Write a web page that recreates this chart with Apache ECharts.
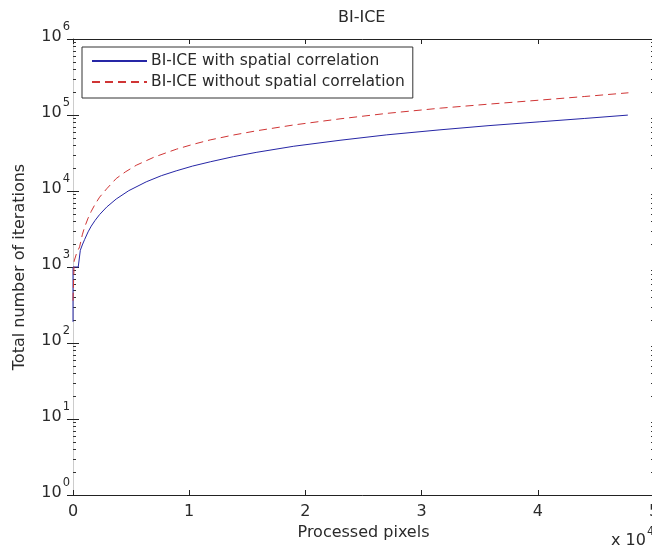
<!DOCTYPE html>
<html><head><meta charset="utf-8">
<script src="https://cdn.jsdelivr.net/npm/echarts@6/dist/echarts.min.js"></script>
<style>html,body{margin:0;padding:0;background:#fff}#c{width:652px;height:551px}</style>
</head><body><div id="c"></div>
<script>
var titleText = 'BI-ICE';
var xName = 'Processed pixels';
var yName = 'Total number of iterations';
var seriesNames = ['BI-ICE with spatial correlation', 'BI-ICE without spatial correlation'];
var blueX = [0, 0, 450, 630, 800, 1000, 1300, 1570, 1900, 2290, 2900, 3720, 4800, 6300, 7600, 8880, 10300, 11850, 13800, 15760, 19000, 22980, 27000, 31580, 35800, 40180, 44000, 47750];
var blueY = [190, 1000, 1000, 1660, 1950, 2300, 2900, 3450, 4100, 4900, 6150, 7850, 10100, 13200, 15900, 18400, 21300, 24300, 28300, 32200, 38800, 46500, 54800, 63800, 72500, 81400, 90000, 99700];
var redX = [0, 100, 300, 568, 800, 1000, 1300, 1570, 1900, 2290, 2900, 3720, 4500, 5440, 7000, 8900, 10300, 11800, 13800, 15800, 19000, 22980, 27000, 31600, 35800, 40180, 44000, 47800];
var redY = [360, 1200, 1500, 1840, 2650, 3350, 4400, 5400, 6700, 8300, 10700, 14600, 17800, 21800, 28000, 35500, 41000, 47000, 54500, 62000, 74000, 89000, 105000, 123000, 139000, 157000, 175000, 196000];
var xTickLabels = ['0', '1', '2', '3', '4', '5'];
var xScaleLabel = ['x 10', '4'];
var yTickExponents = ['0', '1', '2', '3', '4', '5', '6'];
var decades = [1, 10, 100, 1000, 10000, 100000];
var minorFactors = [2, 3, 4, 5, 6, 7, 8, 9];

var FONT = 'DejaVu Sans, sans-serif';
var TXT = '#2a2a2a';
function pairs(xs, ys) { return xs.map(function (x, i) { return [x, ys[i]]; }); }
var minorVals = [];
decades.forEach(function (d) { minorFactors.forEach(function (f) { minorVals.push([0, d * f]); }); });

var chart = echarts.init(document.getElementById('c'), null, { renderer: 'canvas' });
var richSup = {
  b: { fontSize: 16, fontFamily: FONT, color: TXT, verticalAlign: 'bottom', lineHeight: 18 },
  s: { fontSize: 11.5, fontFamily: FONT, color: TXT, verticalAlign: 'bottom', lineHeight: 13, padding: [0, 0, 11, 1] }
};
chart.setOption({
  backgroundColor: '#fff',
  animation: false,
  title: { text: titleText, left: 338, top: 10, padding: 0, textStyle: { fontSize: 16, fontWeight: 'normal', fontFamily: FONT, color: TXT } },
  legend: {
    orient: 'vertical', left: 82, top: 47, padding: [6, 8, 8, 9], itemGap: 5,
    itemWidth: 55, itemHeight: 16, borderColor: '#333', borderWidth: 1, backgroundColor: '#fff',
    data: seriesNames,
    itemStyle: { opacity: 0 },
    textStyle: { fontSize: 15.5, fontFamily: FONT, color: TXT, padding: [0, 0, 0, -1] }
  },
  grid: { left: 73, top: 39, width: 581, height: 456, containLabel: false, outerBoundsMode: 'none' },
  xAxis: [{
    type: 'value', min: 0, max: 50000, interval: 10000,
    name: xName, nameLocation: 'middle', nameGap: 26,
    nameTextStyle: { fontSize: 16, fontFamily: FONT, color: TXT },
    axisLine: { lineStyle: { color: '#222' } },
    axisTick: { inside: true, length: 5, lineStyle: { color: '#222' } },
    axisLabel: { margin: 9, fontSize: 16, fontFamily: FONT, color: TXT, formatter: function (v) { return xTickLabels[Math.round(v / 10000)]; } },
    splitLine: { show: false }
  }, {
    type: 'value', position: 'top', min: 0, max: 50000, interval: 10000,
    axisLine: { lineStyle: { color: '#222' } },
    axisTick: { inside: true, length: 5, lineStyle: { color: '#222' } },
    axisLabel: { show: false }, splitLine: { show: false }
  }],
  yAxis: [{
    type: 'log', logBase: 10, min: 1, max: 1000000,
    name: yName, nameLocation: 'middle', nameGap: 45,
    nameTextStyle: { fontSize: 16, fontFamily: FONT, color: TXT },
    axisLine: { lineStyle: { color: '#222' } },
    axisTick: { inside: true, length: 6, lineStyle: { color: '#222' } },
    axisLabel: {
      margin: 3, padding: [0, 0, 7, 0],
      formatter: function (v) { var e = Math.round(Math.log(v) / Math.LN10); return '{b|10}{s|' + yTickExponents[e] + '}'; },
      rich: richSup
    },
    splitLine: { show: false }
  }, {
    type: 'log', logBase: 10, min: 1, max: 1000000, position: 'right',
    axisLine: { lineStyle: { color: '#ccc' } },
    axisTick: { inside: true, length: 6, lineStyle: { color: '#222' } },
    axisLabel: { show: false }, splitLine: { show: false }
  }],
  graphic: [{
    type: 'text', left: 611, top: 526,
    style: { rich: {
      b: { fontSize: 16, fontFamily: FONT, fill: TXT, verticalAlign: 'bottom', lineHeight: 18 },
      s: { fontSize: 11.5, fontFamily: FONT, fill: TXT, verticalAlign: 'bottom', lineHeight: 13, padding: [0, 0, 11, 1] }
    }, text: '{b|' + xScaleLabel[0] + '}{s|' + xScaleLabel[1] + '}' }
  }],
  series: [{
    name: seriesNames[0], type: 'line', data: pairs(blueX, blueY), showSymbol: false, symbol: 'none',
    lineStyle: { color: '#2626a6', width: 1 }, itemStyle: { color: '#2626a6' }
  }, {
    name: seriesNames[1], type: 'line', data: pairs(redX, redY), showSymbol: false, symbol: 'none',
    lineStyle: { color: '#d03535', width: 1, type: [8, 5] }, itemStyle: { color: '#d03535' }
  }, {
    type: 'custom', silent: true, data: minorVals,
    renderItem: function (params, api) {
      var v = api.value(1);
      var p = api.coord([0, v]);
      var q = api.coord([50000, v]);
      var y = Math.round(p[1]) + 0.5;
      return { type: 'group', children: [
        { type: 'line', shape: { x1: p[0], y1: y, x2: p[0] + 3, y2: y }, style: { stroke: '#333', lineWidth: 1 } },
        { type: 'line', shape: { x1: q[0] - 3, y1: y, x2: q[0], y2: y }, style: { stroke: '#333', lineWidth: 1 } }
      ] };
    }
  }]
});
</script></body></html>
